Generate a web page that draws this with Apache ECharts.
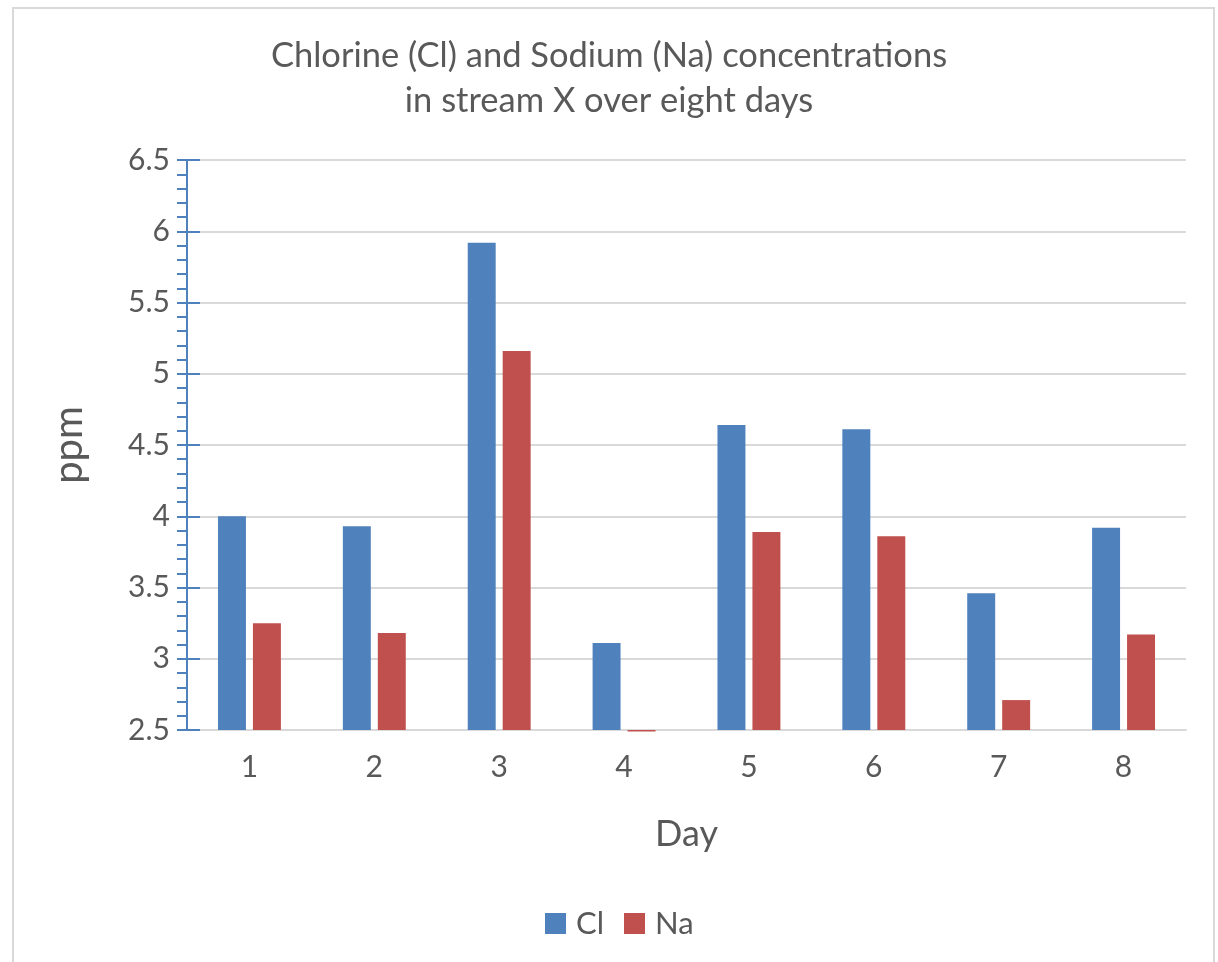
<!DOCTYPE html>
<html><head><meta charset="utf-8">
<script src="https://cdn.jsdelivr.net/npm/echarts@6/dist/echarts.min.js"></script>
<style>html,body{margin:0;padding:0;background:#fff}#c{width:1218px;height:962px}</style>
</head><body><div id="c"></div>
<script>
const days = ['1','2','3','4','5','6','7','8'];
const clValues = [4.00, 3.93, 5.92, 3.11, 4.64, 4.61, 3.46, 3.92];
const naValues = [3.25, 3.18, 5.16, 2.49, 3.89, 3.86, 2.71, 3.17];
const yMin = 2.5, yMax = 6.5, yStep = 0.5;
const titleText = 'Chlorine (Cl) and Sodium (Na) concentrations\nin stream X over eight days';

const FONT = 'Lato';
const TXT = '#595959';
const BAR_FRAC = 0.224, GAP_FRAC = 0.056;

function barRenderer(side, color){
  return function(params, api){
    const idx = api.value(0);
    const val = api.value(1);
    const band = api.size([1,0])[0];
    const w = band*BAR_FRAC, g = band*GAP_FRAC;
    const top = api.coord([idx, val]);
    const base = api.coord([idx, yMin]);
    const x = side < 0 ? top[0] - g/2 - w : top[0] + g/2;
    const y1 = Math.min(top[1], base[1]), y2 = Math.max(top[1], base[1]);
    return {type:'rect', shape:{x:x, y:y1, width:w, height:Math.max(y2-y1, 1.5)}, style:{fill:color}};
  };
}

const chart = echarts.init(document.getElementById('c'), null, {renderer:'canvas'});
chart.setOption({
  animation:false,
  backgroundColor:'#fff',
  textStyle:{fontFamily:FONT},
  graphic:[{type:'rect',shape:{x:13,y:8,width:1201,height:980},style:{fill:'none',stroke:'#d9d9d9',lineWidth:2},silent:true}],
  title:{text:titleText,left:'center',top:28,textStyle:{fontFamily:FONT,fontSize:34.5,fontWeight:'normal',color:TXT,lineHeight:45}},
  legend:{bottom:18,left:540,itemWidth:21,itemHeight:21,itemGap:20,icon:'rect',
    textStyle:{fontFamily:FONT,fontSize:31,color:TXT,padding:[0,0,0,5]},data:['Cl','Na']},
  grid:{left:187,right:32,top:160,bottom:232,containLabel:false},
  xAxis:{type:'category',data:days,
    axisLine:{show:true,lineStyle:{color:'#d9d9d9',width:2}},axisTick:{show:false},
    axisLabel:{fontFamily:FONT,fontSize:30,color:TXT,margin:22},
    name:'Day',nameLocation:'middle',nameGap:86,nameTextStyle:{fontFamily:FONT,fontSize:36,color:TXT}},
  yAxis:[{type:'value',min:yMin,max:yMax,interval:yStep,
    axisLine:{show:true,lineStyle:{color:'#4F81BD',width:2}},
    axisTick:{show:true,length:10,lineStyle:{color:'#4F81BD',width:2}},
    minorTick:{show:true,splitNumber:5,length:10,lineStyle:{color:'#4F81BD',width:2}},
    splitLine:{show:true,lineStyle:{color:'#d9d9d9',width:2}},
    axisLabel:{fontFamily:FONT,fontSize:30,color:TXT,margin:17},
    name:'ppm',nameLocation:'middle',nameGap:98,nameRotate:90,nameTextStyle:{fontFamily:FONT,fontSize:40,color:TXT}},
   {type:'value',min:yMin,max:yMax,interval:yStep,position:'left',
    axisLine:{show:false},axisTick:{show:true,inside:true,length:13,lineStyle:{color:'#4F81BD',width:2}},
    splitLine:{show:false},axisLabel:{show:false}}],
  series:[
    {name:'Cl',type:'custom',data:clValues.map((v,i)=>[i,v]),clip:false,
     encode:{x:0,y:1},itemStyle:{color:'#4F81BD'},renderItem:barRenderer(-1,'#4F81BD')},
    {name:'Na',type:'custom',data:naValues.map((v,i)=>[i,v]),clip:false,
     encode:{x:0,y:1},itemStyle:{color:'#C0504D'},renderItem:barRenderer(1,'#C0504D')}
  ]
});
</script></body></html>
